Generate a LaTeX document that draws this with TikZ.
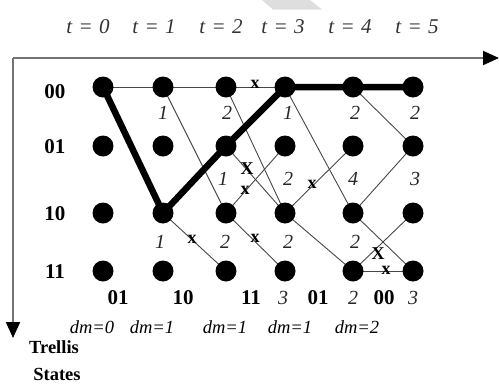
\documentclass[tikz,border=0pt]{standalone}
\usepackage{fontspec}
\setmainfont{Liberation Serif}
\usetikzlibrary{arrows.meta,backgrounds}
\begin{document}
\begin{tikzpicture}[x=1pt,y=-1pt,
  dot/.style={circle,fill=black,inner sep=0pt,minimum size=21pt},
  edge/.style={draw=black!72,line width=0.9pt},
  best/.style={draw=black,line width=6.5pt,line join=round,line cap=round},
  met/.style={font=\fontsize{20}{20}\selectfont\itshape,inner sep=0pt,text=black!85},
  bits/.style={font=\fontsize{21}{21}\selectfont\bfseries,inner sep=0pt},
  xm/.style={font=\fontsize{18}{18}\selectfont\bfseries,inner sep=0pt},
  tlab/.style={font=\fontsize{21}{21}\selectfont\itshape,inner sep=0pt,text=black!80},
  dml/.style={font=\fontsize{18.5}{18.5}\selectfont\itshape,inner sep=0pt},
  ttl/.style={font=\fontsize{18.5}{18.5}\selectfont\bfseries,inner sep=0pt},
  axis/.style={draw=black!55,line width=2pt},
  tip/.style={-{Triangle[length=16pt,width=14pt,color=black]}}]
\useasboundingbox (0,0) rectangle (499,384);
% faint watermark fragment
\fill[black!13] (262,0) -- (310,0) -- (322,9.5) -- (273,9.5) -- cycle;
% axes
\coordinate (org) at (13,58);
\coordinate (xend) at (499,58);
\coordinate (yend) at (13,338);
\draw[axis,tip] (org) -- (xend);
\draw[axis,tip] (org) -- (yend);
% time labels
\foreach \i/\x in {0/88,1/154,2/221,3/283,4/350,5/417}
  \node[tlab] (t\i) at (\x,27) {t\hspace{0.3em}=\hspace{0.3em}\i};
% state labels
\node[bits] (s00) at (55,92) {00};
\node[bits] (s01) at (55,147) {01};
\node[bits] (s10) at (55,214) {10};
\node[bits] (s11) at (55,272) {11};
% trellis nodes
\foreach \c/\x in {0/103,1/163,2/226,3/285,4/353,5/413}
  \foreach \r/\y in {a/87,b/146,c/213,d/271}
    \node[dot] (n\c\r) at (\x,\y) {};
% edges
\begin{pgfonlayer}{background}
\draw[edge] (n0a.center) -- (n1a.center);
\draw[edge] (n1a.center) -- (n2a.center);
\draw[edge] (n2a.center) -- (n3a.center);
\draw[edge] (n1a.center) -- (n2c.center);
\draw[edge] (n1c.center) -- (n2d.center);
\draw[edge] (n2a.center) -- (n3c.center);
\draw[edge] (n2b.center) -- (n3c.center);
\draw[edge] (n2c.center) -- (n3b.center);
\draw[edge] (n2c.center) -- (n3d.center);
\draw[edge] (n3a.center) -- (n4c.center);
\draw[edge] (n3c.center) -- (n4b.center);
\draw[edge] (n3c.center) -- (n4d.center);
\draw[edge] (n4a.center) -- (n5b.center);
\draw[edge] (n4c.center) -- (n5b.center);
\draw[edge] (n4c.center) -- (n5d.center);
\draw[edge] (n4d.center) -- (n5c.center);
\draw[edge] (n4d.center) -- (n5d.center);
\draw[best] (n0a.center) -- (n1c.center) -- (n2b.center) -- (n3a.center) -- (n4a.center) -- (n5a.center);
\end{pgfonlayer}
% eliminated-path marks
\node[xm] (x1) at (255,84) {x};
\node[xm] (x2) at (247,169) {X};
\node[xm] (x3) at (245,190) {x};
\node[xm] (x4) at (192,239) {x};
\node[xm] (x5) at (255,238) {x};
\node[xm] (x6) at (312,184) {x};
\node[xm] (x7) at (378,254) {X};
\node[xm] (x8) at (386,270) {x};
% path metrics
\node[met] (m1) at (163,113) {1};
\node[met] (m2) at (227,113) {2};
\node[met] (m3) at (288,113) {1};
\node[met] (m4) at (355,113) {2};
\node[met] (m5) at (415,113) {2};
\node[met] (m6) at (223,179) {1};
\node[met] (m7) at (288,179) {2};
\node[met] (m8) at (353,179) {4};
\node[met] (m9) at (415,179) {3};
\node[met] (m10) at (160,242) {1};
\node[met] (m11) at (225,242) {2};
\node[met] (m12) at (288,242) {2};
\node[met] (m13) at (355,242) {2};
\node[met] (m14) at (283,298) {3};
\node[met] (m15) at (353,298) {2};
\node[met] (m16) at (413,298) {3};
% received bits
\node[bits] (b1) at (118,298) {01};
\node[bits] (b2) at (183,298) {10};
\node[bits] (b3) at (251,298) {11};
\node[bits] (b4) at (318,298) {01};
\node[bits] (b5) at (384,298) {00};
% distances
\node[dml] (d1) at (92,327) {dm=0};
\node[dml] (d2) at (152,327) {dm=1};
\node[dml] (d3) at (225,327) {dm=1};
\node[dml] (d4) at (290,327) {dm=1};
\node[dml] (d5) at (357,327) {dm=2};
% axis title
\node[ttl] (tr) at (54,347) {Trellis};
\node[ttl] (st) at (57,374) {States};
\end{tikzpicture}
\end{document}
